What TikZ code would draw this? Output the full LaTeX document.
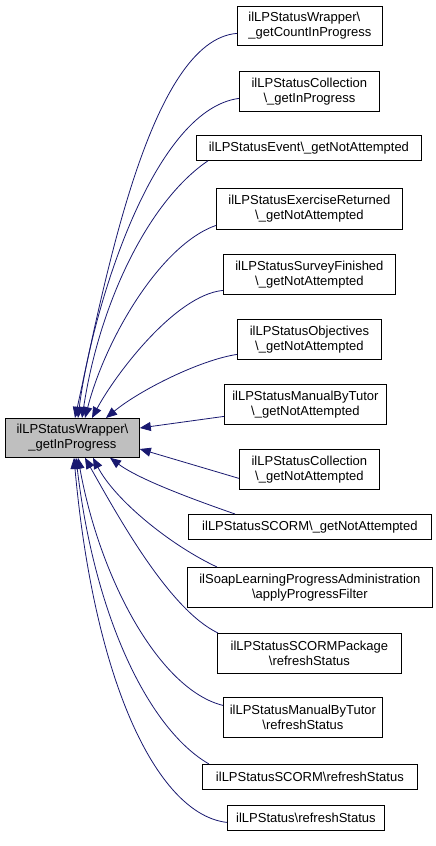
\documentclass[tikz,border=0pt]{standalone}
\usepackage{fontspec}
\setmainfont{Liberation Sans}
\usetikzlibrary{arrows.meta}
\definecolor{edgeblue}{HTML}{191970}
\definecolor{mainfill}{HTML}{BFBFBF}
\begin{document}
\begin{tikzpicture}[x=1pt,y=-1pt,
  box/.style={draw=black, line width=0.8pt, fill=white, inner sep=0pt, align=center,
    font=\fontsize{13}{15}\selectfont, anchor=north west},
  edge/.style={draw=edgeblue, line width=0.8pt, {Triangle[length=11pt,width=9pt]}-}]
\useasboundingbox (0,0) rectangle (436,846);
\fill[white] (0,0) rectangle (436,846);

\node[box, fill=mainfill, minimum width=134pt, minimum height=39pt] (main) at (5,418)
  {ilLPStatusWrapper\textbackslash\\\_getInProgress};

\node[box, align=left, minimum width=145pt, minimum height=39pt] (c1) at (237,6)
  {ilLPStatusWrapper\textbackslash\\\_getCountInProgress};
\node[box, minimum width=140pt, minimum height=40pt] (c2) at (239,71)
  {ilLPStatusCollection\\\textbackslash\_getInProgress};
\node[box, minimum width=225pt, minimum height=25pt] (c3) at (196,135)
  {ilLPStatusEvent\textbackslash\_getNotAttempted};
\node[box, minimum width=186pt, minimum height=41pt] (c4) at (216,188)
  {ilLPStatusExerciseReturned\\\textbackslash\_getNotAttempted};
\node[box, minimum width=172pt, minimum height=40pt] (c5) at (223,254)
  {ilLPStatusSurveyFinished\\\textbackslash\_getNotAttempted};
\node[box, minimum width=144pt, minimum height=40pt] (c6) at (237,319)
  {ilLPStatusObjectives\\\textbackslash\_getNotAttempted};
\node[box, minimum width=162pt, minimum height=40pt] (c7) at (224,384)
  {ilLPStatusManualByTutor\\\textbackslash\_getNotAttempted};
\node[box, minimum width=140pt, minimum height=40pt] (c8) at (239,449)
  {ilLPStatusCollection\\\textbackslash\_getNotAttempted};
\node[box, minimum width=243pt, minimum height=25pt] (c9) at (188,514)
  {ilLPStatusSCORM\textbackslash\_getNotAttempted};
\node[box, minimum width=245pt, minimum height=40pt] (c10) at (187,567)
  {ilSoapLearningProgressAdministration\\\textbackslash applyProgressFilter};
\node[box, minimum width=184pt, minimum height=40pt] (c11) at (217,633)
  {ilLPStatusSCORMPackage\\\textbackslash refreshStatus};
\node[box, minimum width=159pt, minimum height=40pt] (c12) at (223,697)
  {ilLPStatusManualByTutor\\\textbackslash refreshStatus};
\node[box, minimum width=215pt, minimum height=25pt] (c13) at (202,764)
  {ilLPStatusSCORM\textbackslash refreshStatus};
\node[box, minimum width=157pt, minimum height=25pt] (c14) at (227,805)
  {ilLPStatus\textbackslash refreshStatus};

% edges into the top of the main box
\draw[edge] ([xshift=70pt]main.north west) .. controls (105,280) and (150,40) .. ([yshift=-7.5pt]c1.west);
\draw[edge] ([xshift=73pt]main.north west) .. controls (90,320) and (150,110) .. ([yshift=-7pt]c2.west);
\draw[edge] ([xshift=77pt]main.north west) .. controls (100,300) and (150,200) .. ([xshift=12pt]c3.south west);
\draw[edge] ([xshift=80pt]main.north west) .. controls (105,340) and (160,245) .. ([yshift=-16.5pt]c4.west);
\draw[edge] ([xshift=87pt]main.north west) .. controls (115,375) and (175,295) .. ([yshift=-16pt]c5.west);
\draw[edge] ([xshift=101pt]main.north west) .. controls (140,390) and (200,360) .. ([yshift=-15pt]c6.west);
% edges into the right side
\draw[edge] ([yshift=-10pt]main.north east) -- ([yshift=-12pt]c7.west);
\draw[edge] ([yshift=-31pt]main.north east) -- ([yshift=-9pt]c8.west);
% edges into the bottom
\draw[edge] ([xshift=105pt]main.south west) .. controls (140,480) and (195,500) .. ([xshift=47pt]c9.north west);
\draw[edge] ([xshift=88pt]main.south west) .. controls (115,500) and (170,545) .. ([xshift=30pt]c10.north west);
\draw[edge] ([xshift=80pt]main.south west) .. controls (120,520) and (170,610) .. ([xshift=1pt]c11.north west);
\draw[edge] ([xshift=73pt]main.south west) .. controls (100,580) and (160,690) .. ([yshift=12pt]c12.west);
\draw[edge] ([xshift=71pt]main.south west) .. controls (95,620) and (150,730) .. ([xshift=7pt]c13.north west);
\draw[edge] ([xshift=69pt]main.south west) .. controls (95,690) and (160,815) .. ([yshift=-4.5pt]c14.west);
\end{tikzpicture}
\end{document}
